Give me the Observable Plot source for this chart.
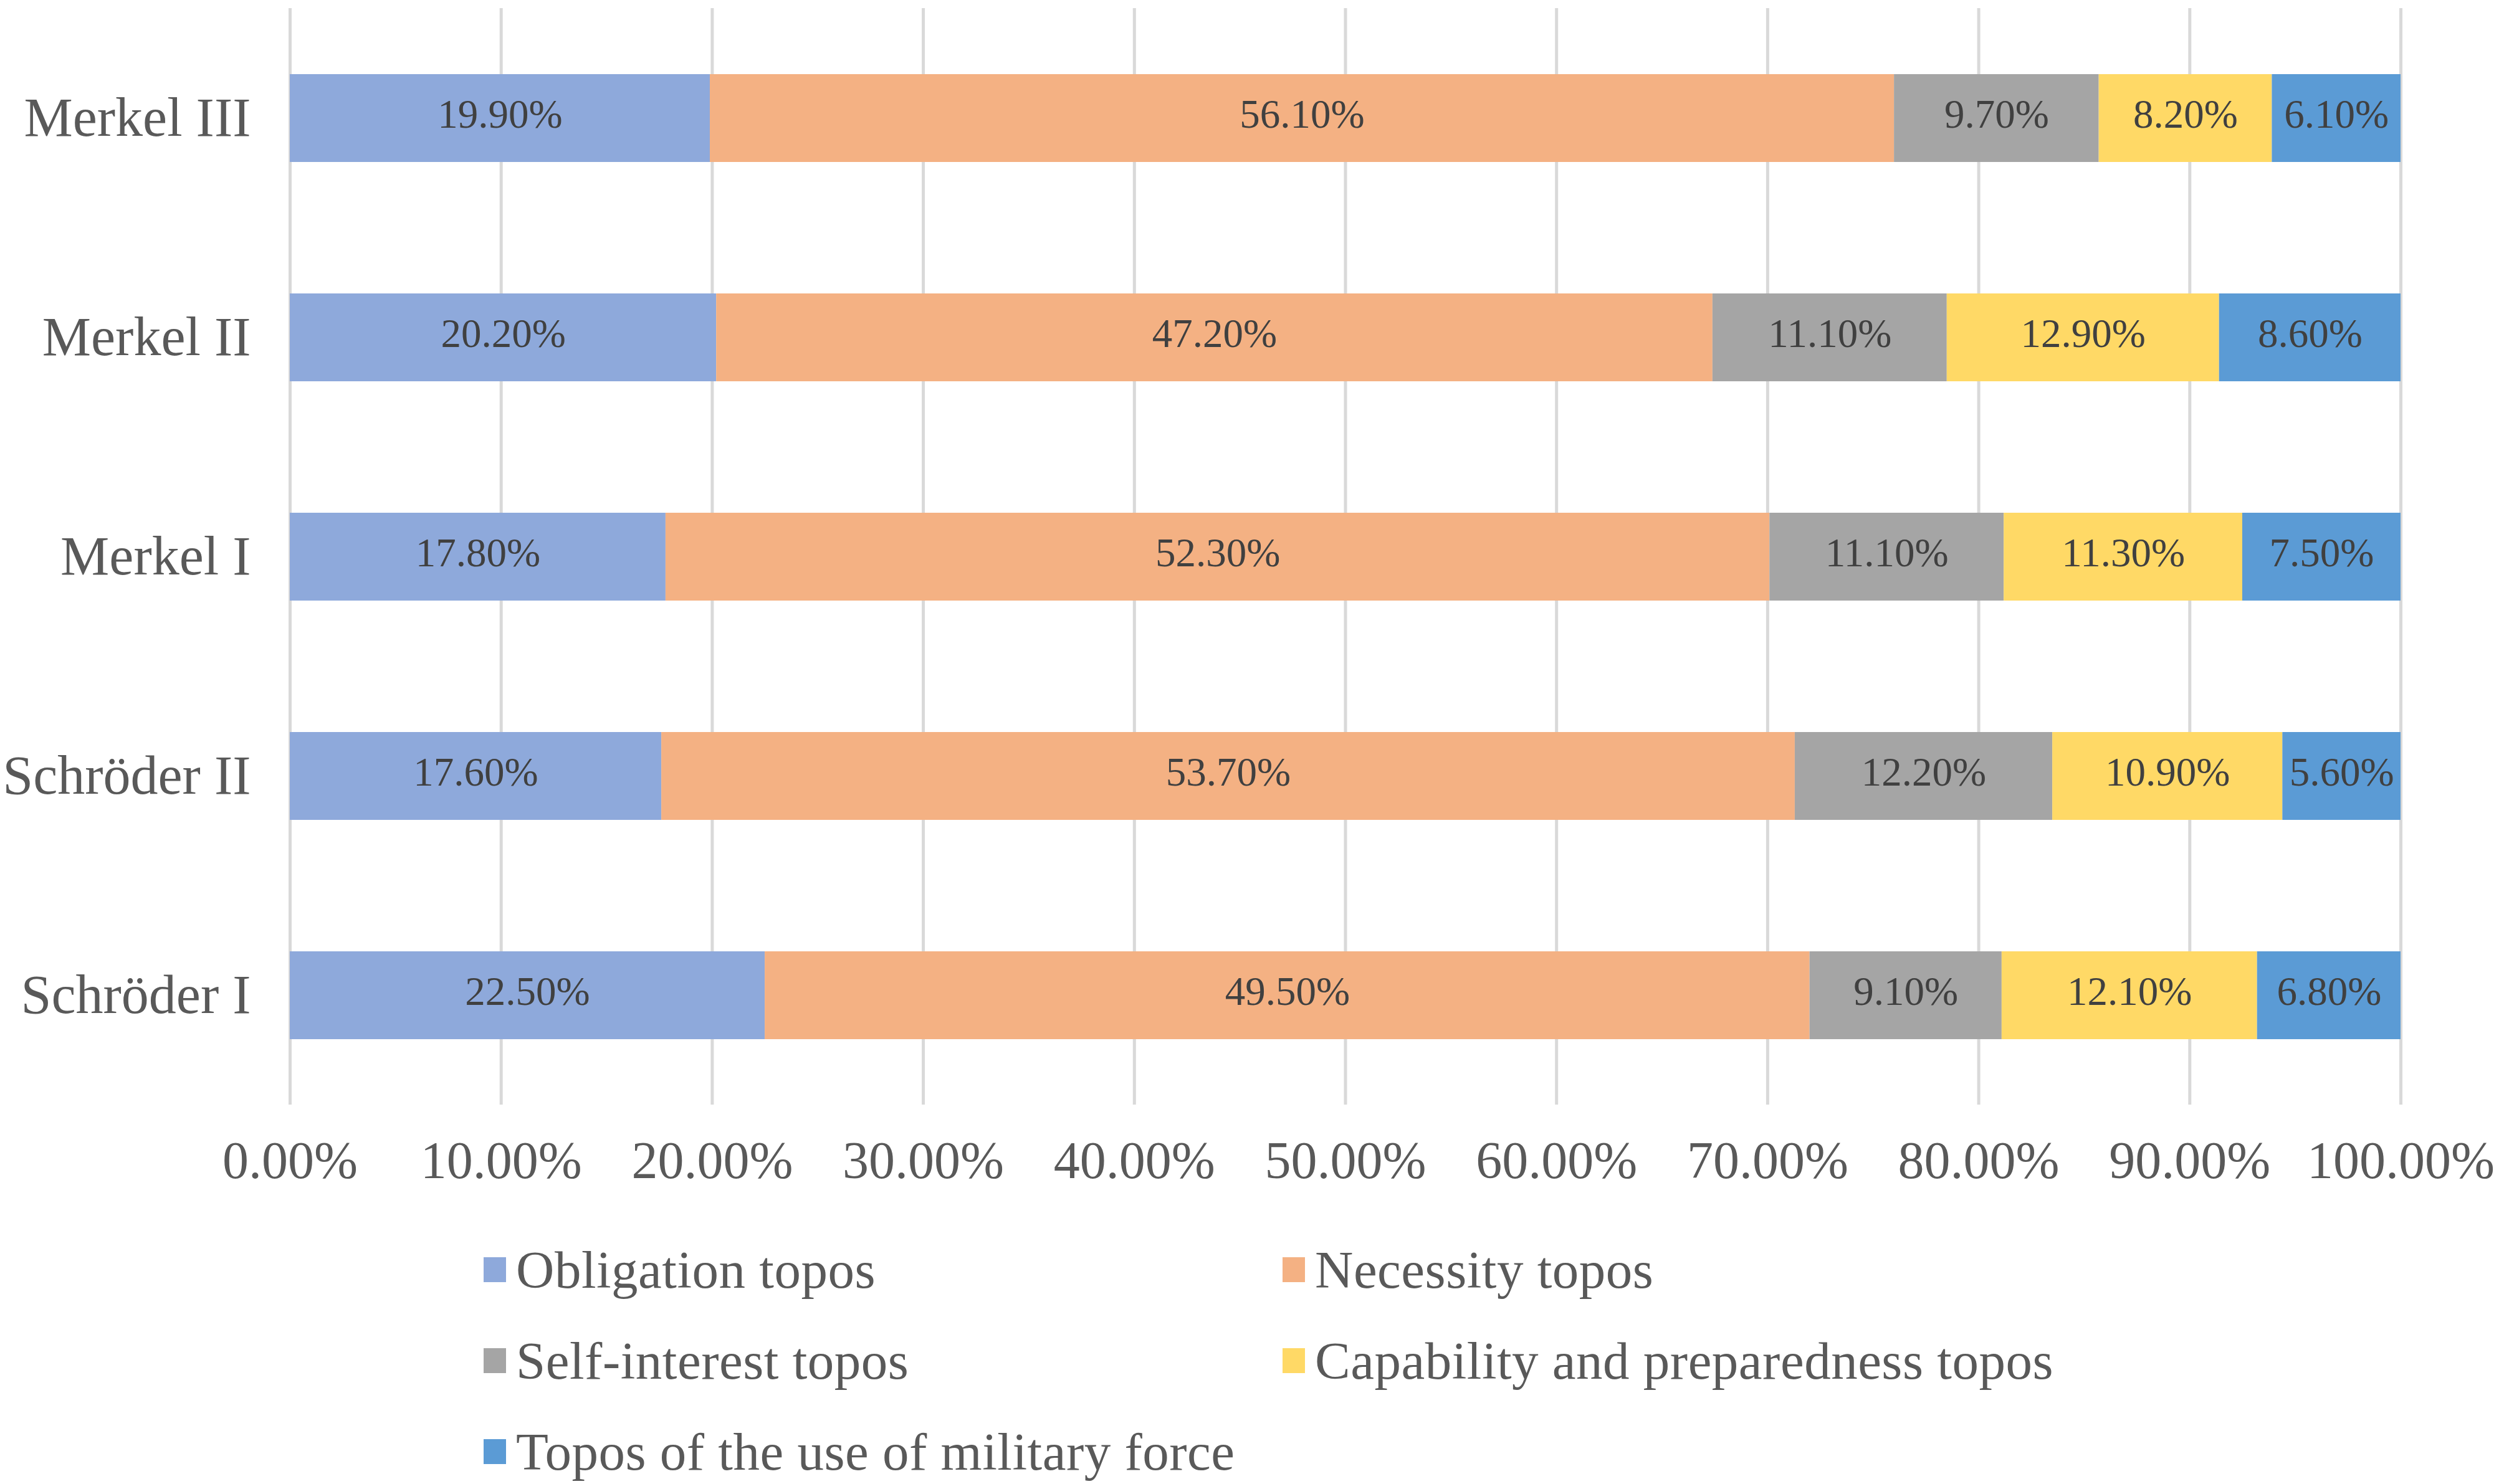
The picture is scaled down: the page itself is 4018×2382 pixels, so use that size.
<!DOCTYPE html>
<html>
<head>
<meta charset="utf-8">
<script src="https://cdn.jsdelivr.net/npm/d3@7"></script>
<script src="https://cdn.jsdelivr.net/npm/@observablehq/plot@0.6"></script>
<style>
  html, body { margin: 0; padding: 0; background: #ffffff; }
  #wrap { position: relative; width: 4018px; height: 2382px; font-family: "Liberation Serif", "Times New Roman", serif; }
  .leg { position: absolute; height: 100px; display: flex; align-items: center; font-size: 85px; letter-spacing: 0.5px; color: #595959; white-space: nowrap; }
  .sw { width: 36px; height: 40px; margin-right: 16px; }
</style>
</head>
<body>
<div id="wrap"></div>
<script>
const governments = ["Merkel III", "Merkel II", "Merkel I", "Schröder II", "Schröder I"];
const categories = ["Obligation topos", "Necessity topos", "Self-interest topos", "Capability and preparedness topos", "Topos of the use of military force"];
const colors = ["#8EA9DB", "#F4B183", "#A5A5A5", "#FFD966", "#5B9BD5"];
const obligation = [19.9, 20.2, 17.8, 17.6, 22.5];
const necessity = [56.1, 47.2, 52.3, 53.7, 49.5];
const selfInterest = [9.7, 11.1, 11.1, 12.2, 9.1];
const capability = [8.2, 12.9, 11.3, 10.9, 12.1];
const military = [6.1, 8.6, 7.5, 5.6, 6.8];
const xTicks = [0, 10, 20, 30, 40, 50, 60, 70, 80, 90, 100];

const series = [obligation, necessity, selfInterest, capability, military];
const data = [];
categories.forEach((c, ci) => {
  governments.forEach((g, gi) => {
    data.push({gov: g, cat: c, value: series[ci][gi]});
  });
});

const chart = Plot.plot({
  width: 4018,
  height: 1960,
  marginTop: 13,
  marginBottom: 187,
  marginLeft: 465,
  marginRight: 166,
  style: {fontFamily: "'Liberation Serif', 'Times New Roman', serif", background: "#ffffff"},
  x: {domain: [0, 100], label: null},
  y: {domain: governments, paddingInner: 0.6, paddingOuter: 0.3, label: null},
  color: {domain: categories, range: colors},
  marks: [
    Plot.ruleX(xTicks, {stroke: "#d9d9d9", strokeWidth: 5}),
    Plot.barX(data, Plot.stackX({x: "value", y: "gov", fill: "cat", order: null})),
    Plot.text(data, Plot.stackX({x: "value", y: "gov", z: "cat", order: null,
      text: d => d.value.toFixed(2) + "%", fill: "#404040", fontSize: 65, dy: -6})),
    Plot.axisX({ticks: xTicks, tickFormat: d => d.toFixed(2) + "%", tickSize: 0, tickPadding: 58,
      fontSize: 84, color: "#595959", anchor: "bottom", label: null}),
    Plot.axisY({tickSize: 0, tickPadding: 63, fontSize: 88, color: "#595959", anchor: "left", label: null})
  ]
});
chart.style.position = "absolute";
chart.style.left = "0px";
chart.style.top = "0px";
const wrap = document.getElementById("wrap");
wrap.appendChild(chart);

const legPos = [[776, 2038], [2058, 2038], [776, 2184], [2058, 2184], [776, 2330]];
categories.forEach((c, i) => {
  const d = document.createElement("div");
  d.className = "leg";
  d.style.left = legPos[i][0] + "px";
  d.style.top = (legPos[i][1] - 50) + "px";
  const s = document.createElement("span");
  s.className = "sw";
  s.style.background = colors[i];
  d.appendChild(s);
  d.appendChild(document.createTextNode(c));
  wrap.appendChild(d);
});
</script>
</body>
</html>
